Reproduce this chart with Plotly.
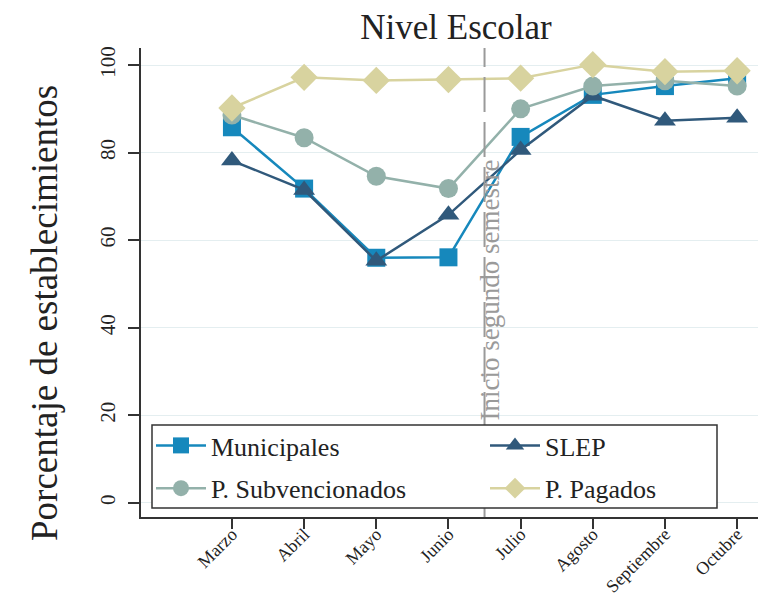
import plotly.graph_objects as go

months = ["Marzo", "Abril", "Mayo", "Junio", "Julio", "Agosto", "Septiembre", "Octubre"]
municipales = [85.8, 71.8, 56.0, 56.1, 83.6, 93.2, 95.2, 97.0]
slep = [78.2, 71.5, 55.3, 65.8, 80.6, 93.0, 87.3, 88.0]
subvencionados = [88.6, 83.4, 74.6, 71.8, 90.0, 95.2, 96.4, 95.2]
pagados = [90.2, 97.2, 96.5, 96.7, 97.0, 100.1, 98.5, 98.7]
y_ticks = [0, 20, 40, 60, 80, 100]

x_idx = list(range(len(months)))
FONT = "Liberation Serif"

series = [
    ("Municipales", municipales, "#1688bc", "square", 18, "legend"),
    ("SLEP", slep, "#30597b", "triangle-up", 19, "legend2"),
    ("P. Subvencionados", subvencionados, "#93b1aa", "circle", 19, "legend"),
    ("P. Pagados", pagados, "#d8d39f", "diamond", 21, "legend2"),
]

# page body has an 8px margin: figure is drawn at (8, 8) in the window
OFF = 8
W, H = 766 - OFF, 598 - OFF
L, T = 141 - OFF, 48 - OFF
PW, PH = 625, 469
B = H - T - PH

fig = go.Figure()
for name, vals, color, sym, size, lg in series:
    fig.add_trace(go.Scatter(
        x=x_idx, y=vals, name=name, mode="lines+markers",
        line=dict(color=color, width=2.5),
        marker=dict(symbol=sym, size=size, color=color, line=dict(width=0)),
        legend=lg, legendgroup=name,
    ))

# vertical dashed line at the start of the second semester
fig.add_shape(type="line", xref="x", yref="paper", x0=3.5, x1=3.5, y0=0, y1=1,
              line=dict(color="#9a9a9a", width=2, dash="35px,10px"), layer="above")
# legend frame
fig.add_shape(type="rect", xref="paper", yref="paper",
              x0=11/PW, x1=576/PW, y0=(517-508)/PH, y1=(517-425)/PH,
              fillcolor="white", line=dict(color="#333333", width=1.5), layer="above")

fig.add_annotation(x=3.5, y=18.4, xref="x", yref="y", text="Inicio segundo semestre",
                   textangle=-90, showarrow=False, xanchor="center", yanchor="bottom",
                   xshift=5, font=dict(family=FONT, size=27, color="#9a9a9a"))

# y-axis title (placed lower than the plot centre, as in the reference)
fig.add_annotation(x=(45 - OFF - L)/PW, y=(517-313)/PH, xref="paper", yref="paper",
                   text="Porcentaje de establecimientos", textangle=-90, showarrow=False,
                   xanchor="center", yanchor="middle",
                   font=dict(family=FONT, size=37, color="#222222"))

leg_common = dict(yanchor="top", bgcolor="rgba(0,0,0,0)", borderwidth=0,
                  font=dict(family=FONT, size=26, color="#222222"),
                  tracegroupgap=6, itemwidth=50)

fig.update_layout(
    width=W, height=H,
    margin=dict(l=L, r=0, t=T, b=B, autoexpand=False),
    paper_bgcolor="white", plot_bgcolor="white",
    font=dict(family=FONT, color="#222222"),
    title=dict(text="Nivel Escolar", x=(456 - OFF)/W, xanchor="center", y=1 - (27 - OFF)/H,
               yanchor="middle", automargin=False,
               font=dict(family=FONT, size=35, color="#222222")),
    showlegend=True,
    legend=dict(x=10/PW, y=(517-422)/PH, xanchor="left", **leg_common),
    legend2=dict(x=344/PW, y=(517-422)/PH, xanchor="left", **leg_common),
    xaxis=dict(range=[-1.26, 7.4], tickmode="array", tickvals=x_idx, ticktext=months,
               tickangle=-45, ticks="outside", ticklen=10, tickwidth=1.5, tickcolor="#333333",
               ticklabelstandoff=-12,
               showline=True, linecolor="#333333", linewidth=1.5, showgrid=False, zeroline=False,
               automargin=False,
               tickfont=dict(family=FONT, size=18, color="#222222")),
    yaxis=dict(range=[-3.2, 103.9], tickmode="array", tickvals=y_ticks,
               tickangle=-90, ticks="outside", ticklen=11, tickwidth=1.5, tickcolor="#333333",
               ticklabelstandoff=5,
               showline=True, linecolor="#333333", linewidth=1.5,
               showgrid=True, gridcolor="#e4eef0", gridwidth=1, zeroline=False,
               automargin=False,
               tickfont=dict(family=FONT, size=21, color="#222222")),
)

fig.write_html("out.html")
